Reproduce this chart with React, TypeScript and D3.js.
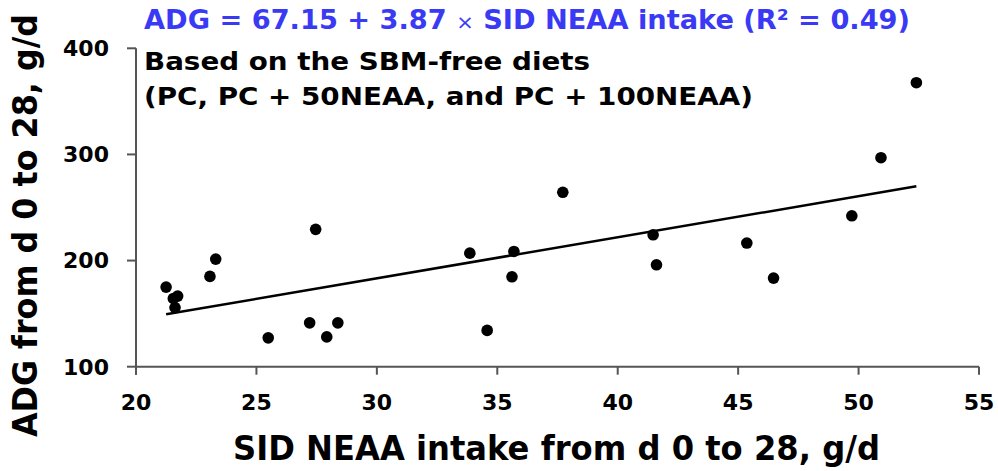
import React, { useLayoutEffect, useRef, useState } from "react";
import * as d3 from "d3";

const xValues = [21.25, 21.55, 21.73, 21.62, 23.07, 23.31, 27.46, 25.49, 27.21, 27.92, 28.38, 33.86, 35.69, 35.61, 34.58, 37.72, 41.47, 41.61, 45.36, 46.47, 49.72, 50.93, 52.4];
const yValues = [175.0, 164.3, 166.5, 155.8, 185.1, 201.4, 229.4, 127.2, 141.3, 128.1, 141.3, 207.0, 208.6, 184.7, 134.2, 264.3, 224.3, 196.0, 216.5, 183.5, 242.2, 296.9, 367.6];
const xTicks = [20, 25, 30, 35, 40, 45, 50, 55];
const yTicks = [100, 200, 300, 400];
const intercept = 67.15;
const slope = 3.87;
const titleText = ["ADG = 67.15 + 3.87 ", "×", " SID NEAA intake (R² = 0.49)"];
const subtitleLines = ["Based on the SBM-free diets", "(PC, PC + 50NEAA, and PC + 100NEAA)"];
const xLabel = "SID NEAA intake from d 0 to 28, g/d";
const yLabel = "ADG from d 0 to 28, g/d";

export default function App() {
  const W = 998, H = 471;
  const left = 136, right = 979, top = 48.3, bottom = 366.7;
  const x = d3.scaleLinear().domain([20, 55]).range([left, right]);
  const y = d3.scaleLinear().domain([100, 400]).range([bottom, top]);
  const xMin = d3.min(xValues)!, xMax = d3.max(xValues)!;
  const line = d3.line<number>().x((v) => x(v)).y((v) => y(intercept + slope * v));
  const font = "'DejaVu Sans', 'Liberation Sans', Arial, sans-serif";
  const axisColor = "#555";
  const subtitleWidths = [446, 609];
  const yLabelRef = useRef<SVGTextElement>(null);
  const [yScaleX, setYScaleX] = useState(0.9);
  useLayoutEffect(() => {
    if (yLabelRef.current) {
      const len = yLabelRef.current.getComputedTextLength();
      if (len > 0) setYScaleX(423 / len);
    }
  }, []);
  return (
    <svg width={W} height={H} style={{ position: "absolute", left: 0, top: 0, background: "#fff" }} fontFamily={font} fontWeight="bold">
      {/* axes */}
      <line x1={left} x2={left} y1={top} y2={bottom + 8} stroke={axisColor} strokeWidth={2} />
      <line x1={left} x2={right} y1={bottom} y2={bottom} stroke={axisColor} strokeWidth={2} />
      {yTicks.map((t) => (
        <g key={"y" + t}>
          <line x1={left - 9} x2={left} y1={y(t)} y2={y(t)} stroke={axisColor} strokeWidth={2} />
          <text x={109} y={y(t)} dy="0.36em" textAnchor="end" fontSize={22} fill="#000">{t}</text>
        </g>
      ))}
      {xTicks.map((t) => (
        <g key={"x" + t}>
          <line x1={x(t)} x2={x(t)} y1={bottom} y2={bottom + 8} stroke={axisColor} strokeWidth={2} />
          <text x={x(t)} y={410} textAnchor="middle" fontSize={22} fill="#000">{t}</text>
        </g>
      ))}
      {/* regression line */}
      <path d={line([xMin, xMax]) || ""} fill="none" stroke="#000" strokeWidth={2.5} />
      {/* points */}
      {xValues.map((v, i) => (
        <circle key={i} cx={x(v)} cy={y(yValues[i])} r={5.8} fill="#000" />
      ))}
      {/* titles */}
      <text x={144} y={29} fontSize={26} fill="#3a3af5" textLength={766} lengthAdjust="spacingAndGlyphs">
        {titleText[0]}
        <tspan fontWeight="normal" fontSize={20}>{titleText[1]}</tspan>
        {titleText[2]}
      </text>
      {subtitleLines.map((s, i) => (
        <text key={i} x={144} y={70 + i * 35} fontSize={24} fill="#000" textLength={subtitleWidths[i]} lengthAdjust="spacingAndGlyphs">{s}</text>
      ))}
      <text x={233} y={460} fontSize={34} fill="#000" textLength={647} lengthAdjust="spacingAndGlyphs">{xLabel}</text>
      <text ref={yLabelRef} transform={`translate(37,437) rotate(-90) scale(${yScaleX},1)`} fontSize={34} fill="#000">{yLabel}</text>
    </svg>
  );
}
